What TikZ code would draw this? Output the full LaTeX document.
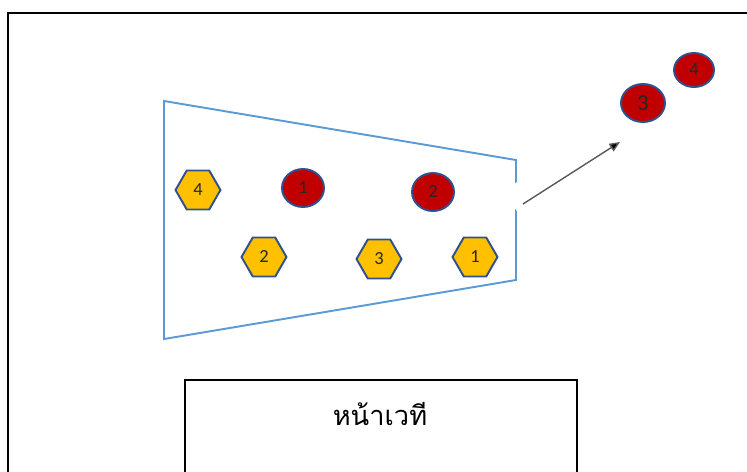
\documentclass[tikz,border=0pt]{standalone}
\usepackage{fontspec}
\setmainfont{Carlito}
\newfontfamily\thaifont[Script=Thai]{Loma}
\usetikzlibrary{shapes.geometric,arrows.meta}

\definecolor{seatorange}{HTML}{FFC000}
\definecolor{seatred}{HTML}{C00000}
\definecolor{seatline}{HTML}{2F528F}
\definecolor{roomblue}{HTML}{5B9BD5}
\definecolor{arrowgrey}{HTML}{595959}

\tikzset{
  hexseat/.style={regular polygon, regular polygon sides=6, fill=seatorange,
    draw=seatline, line width=1.1pt, minimum size=0.9cm, inner sep=0pt,
    text=black!85, font=\fontsize{10.5}{11}\selectfont},
  redseat/.style={ellipse, fill=seatred, draw=seatline, line width=1.1pt,
    minimum width=0.84cm, minimum height=0.76cm, inner sep=0pt,
    text=black!85, font=\fontsize{10.5}{11}\selectfont},
}

\begin{document}
\begin{tikzpicture}[x=0.02cm, y=-0.02cm]
\useasboundingbox (0,0) rectangle (747,471);
\clip (0,0) rectangle (747,471);

% Outer frame
\draw[line width=1.2pt] (8,13) rectangle (780,500);

% Room outline
\draw[roomblue, line width=1.1pt]
  (164,101) -- (516,160) -- (516,280) -- (164,339) -- cycle;

% White box under the movement arrow
\node[fill=white, rotate=32.6, minimum width=3.2cm, minimum height=0.88cm] (box) at (583,166) {};

% Seats inside the room
\node[hexseat] (h4) at (198,190) {4};
\node[hexseat] (h2) at (264,257) {2};
\node[hexseat] (h3) at (379,259) {3};
\node[hexseat] (h1) at (475,257) {1};
\node[redseat] (r1) at (303,188) {1};
\node[redseat] (r2) at (433,192) {2};

% Seats moved outside
\node[redseat, minimum width=0.88cm] (r3) at (643,103) {\fontsize{13}{13}\selectfont 3};
\node[redseat, minimum width=0.8cm, minimum height=0.68cm] (r4) at (694,70) {4};

% Movement arrow
\coordinate (from) at (523,204);
\coordinate (to) at (620,142);
\draw[arrowgrey, line width=0.8pt, -{Triangle[length=6pt,width=5pt,fill=black]}] (from) -- (to);

% Stage
\draw[line width=1.2pt] (185,380) rectangle (577,500);
\node[font=\thaifont\fontsize{15.5}{18}\selectfont] (stage) at (380,414) {หน้าเวที};
\end{tikzpicture}
\end{document}
